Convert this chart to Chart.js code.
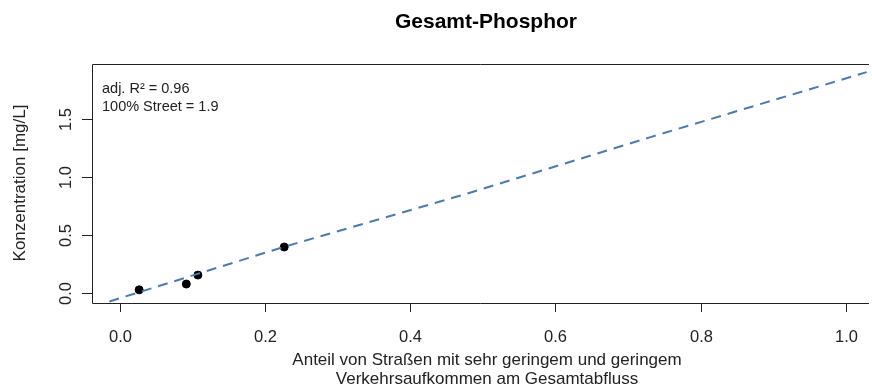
<!DOCTYPE html>
<html>
<head>
<meta charset="utf-8">
<script src="https://cdn.jsdelivr.net/npm/chart.js@4.4.0/dist/chart.umd.min.js"></script>
<style>
  html, body { margin: 0; padding: 0; background: #fff; }
  #wrap { width: 872px; height: 385px; }
</style>
</head>
<body>
<div id="wrap"><canvas id="my-chart" width="872" height="385"></canvas></div>
<script>
// measured samples
const shareX = [0.026, 0.091, 0.107, 0.226];
const concY = [0.03, 0.08, 0.157, 0.398];

// fitted line
const fitX = [-0.015, 0.226, 0.48, 0.73, 1.029];
const fitY = [-0.07, 0.40, 0.86, 1.34, 1.90];

const xTicks = [0, 0.2, 0.4, 0.6, 0.8, 1.0];
const yTicks = [0, 0.5, 1.0, 1.5];

const titleText = 'Gesamt-Phosphor';
const xTitle = ['Anteil von Straßen mit sehr geringem und geringem', 'Verkehrsaufkommen am Gesamtabfluss'];
const yTitle = 'Konzentration [mg/L]';
const notes = ['adj. R\u00b2 = 0.96', '100% Street = 1.9'];

const font = '"Liberation Sans", Arial, sans-serif';

// R-style base graphics: box, outside ticks, rotated y labels
const rAxes = {
  id: 'rAxes',
  afterDraw(chart) {
    const { ctx, chartArea: a, scales: { x, y } } = chart;
    ctx.save();
    ctx.strokeStyle = '#222';
    ctx.lineWidth = 1;
    // box (right side is outside the picture)
    ctx.beginPath();
    ctx.moveTo(a.right + 2, a.top + 0.5);
    ctx.lineTo(a.left + 0.5, a.top + 0.5);
    ctx.lineTo(a.left + 0.5, a.bottom + 0.5);
    ctx.lineTo(a.right + 2, a.bottom + 0.5);
    ctx.stroke();

    ctx.fillStyle = '#222';
    ctx.font = '16.5px ' + font;
    ctx.textAlign = 'center';
    ctx.textBaseline = 'alphabetic';
    xTicks.forEach(v => {
      const px = Math.round(x.getPixelForValue(v)) + 0.5;
      ctx.beginPath();
      ctx.moveTo(px, a.bottom);
      ctx.lineTo(px, a.bottom + 9);
      ctx.stroke();
      ctx.fillText(v.toFixed(1), px, 342);
    });
    yTicks.forEach(v => {
      const py = Math.round(y.getPixelForValue(v)) + 0.5;
      ctx.beginPath();
      ctx.moveTo(a.left, py);
      ctx.lineTo(a.left - 10, py);
      ctx.stroke();
      ctx.save();
      ctx.translate(71, py);
      ctx.rotate(-Math.PI / 2);
      ctx.fillText(v.toFixed(1), 0, 0);
      ctx.restore();
    });

    // titles
    ctx.font = 'bold 21px ' + font;
    ctx.fillStyle = '#000';
    ctx.fillText(titleText, 486, 28);

    ctx.fillStyle = '#222';
    ctx.font = '17px ' + font;
    ctx.fillText(xTitle[0], 487, 365);
    ctx.fillText(xTitle[1], 487, 384);

    ctx.save();
    ctx.translate(25, 183);
    ctx.rotate(-Math.PI / 2);
    ctx.fillText(yTitle, 0, 0);
    ctx.restore();

    ctx.textAlign = 'left';
    ctx.font = '14.5px ' + font;
    ctx.fillText(notes[0], 102, 93);
    ctx.fillText(notes[1], 102, 111);
    ctx.restore();
  }
};

const ctx = document.querySelector('#my-chart').getContext('2d');
const chart = new Chart(ctx, {
  type: 'scatter',
  data: {
    datasets: [
      {
        label: 'fit',
        type: 'line',
        data: fitX.map((v, i) => ({ x: v, y: fitY[i] })),
        borderColor: '#4a7bb0',
        borderWidth: 2,
        borderDash: [10, 7],
        pointRadius: 0,
        fill: false,
        tension: 0
      },
      {
        label: 'samples',
        data: shareX.map((v, i) => ({ x: v, y: concY[i] })),
        backgroundColor: '#000',
        borderColor: '#000',
        pointRadius: 4,
        pointHoverRadius: 4
      }
    ]
  },
  options: {
    responsive: false,
    animation: false,
    events: [],
    layout: { padding: { left: 92, top: 64, right: 0, bottom: 82 } },
    plugins: { legend: { display: false }, tooltip: { enabled: false }, title: { display: false } },
    scales: {
      x: { type: 'linear', min: -0.039, max: 1.0295, display: false },
      y: { type: 'linear', min: -0.083, max: 1.970, display: false }
    }
  },
  plugins: [rAxes]
});
</script>
</body>
</html>
